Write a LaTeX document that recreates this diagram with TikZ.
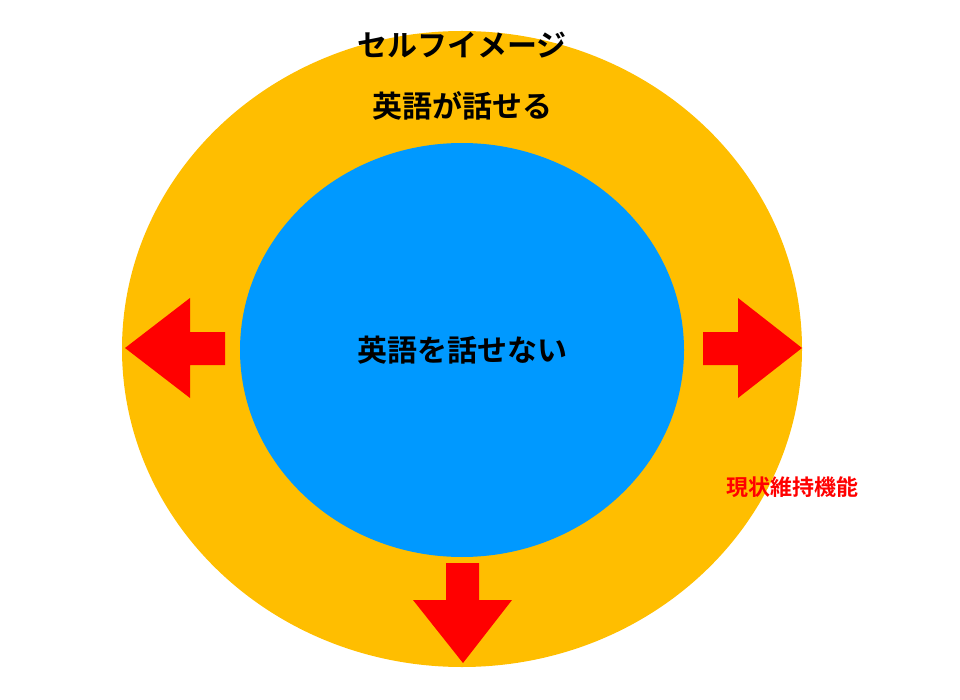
\documentclass[tikz,border=0pt]{standalone}
\usepackage{fontspec}
\newfontfamily\cjk{Noto Sans CJK JP Bold}
\definecolor{ringorange}{HTML}{FFBE00}
\definecolor{coreblue}{HTML}{0099FF}
\definecolor{pushred}{HTML}{FF0000}
\tikzset{
  bigtext/.style={font=\cjk\fontsize{30}{36}\selectfont, text=black},
  redtext/.style={font=\cjk\fontsize{22}{26}\selectfont, text=pushred},
  pusharrow/.style={fill=pushred, draw=none}
}
\begin{document}
\begin{tikzpicture}[x={(1pt,0)}, y={(0,-1pt)}]
                \useasboundingbox (0,0) rectangle (960,700);
                \fill [ringorange] (462,349) ellipse [x radius=340, y radius=318];
                \fill [coreblue] (462,350) ellipse [x radius=222, y radius=207];
                % arrows
                \fill [pusharrow] (125,348) -- (190,298) -- (190,332) -- (225,332) -- (225,365) -- (190,365) -- (190,398) -- cycle;
                \fill [pusharrow] (802,348) -- (738,298) -- (738,332) -- (703,332) -- (703,365) -- (738,365) -- (738,398) -- cycle;
                \fill [pusharrow] (463,663) -- (413,600) -- (446,600) -- (446,563) -- (479,563) -- (479,600) -- (512,600) -- cycle;
                % texts
                \node [bigtext] (self) at (462,45) {セルフイメージ};
                \node [bigtext] (can) at (462,106) {英語が話せる};
                \node [bigtext] (cannot) at (462,350) {英語を話せない};
                \node [redtext] (keep) at (792,487) {現状維持機能};
            \end{tikzpicture}
\end{document}
